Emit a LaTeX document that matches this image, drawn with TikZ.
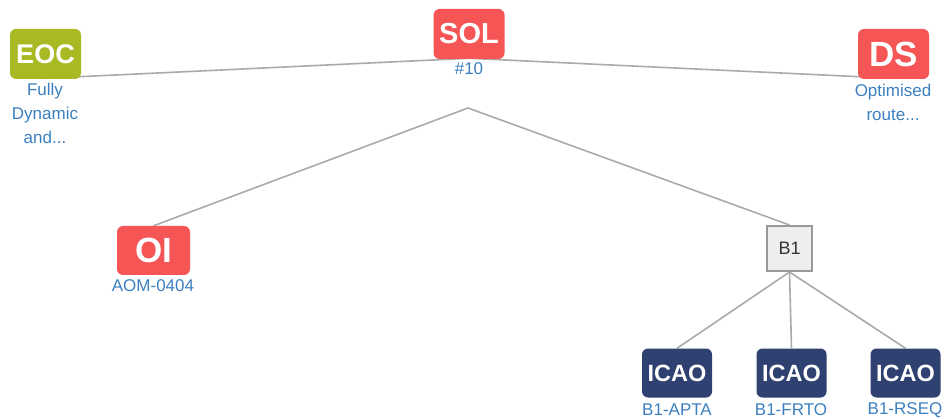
\documentclass[tikz,border=0pt]{standalone}
\usepackage{fontspec}
\setmainfont{Liberation Sans}
\usetikzlibrary{backgrounds}
\definecolor{solred}{HTML}{F55555}
\definecolor{eocgreen}{HTML}{A8B923}
\definecolor{icaonavy}{HTML}{2F4170}
\definecolor{lblue}{HTML}{3B7FC0}
\definecolor{linegray}{HTML}{AAAAAA}
\definecolor{bfill}{HTML}{EEEEEE}
\definecolor{bborder}{HTML}{999999}
\begin{document}
\begin{tikzpicture}[x=1pt,y=-1pt,
  box/.style={rounded corners=6pt, minimum width=71pt, minimum height=50pt, inner sep=0pt, text=white, font=\bfseries},
  lbl/.style={text=lblue, font=\fontsize{17}{24}\selectfont, align=center, inner sep=0pt},
  link/.style={draw=linegray, line width=1.6pt}]
\useasboundingbox (0,0) rectangle (944,419);
% boxes
\node[box, fill=eocgreen, font=\bfseries\fontsize{27}{27}\selectfont] (eoc) at (45.5,54) {EOC};
\node[box, fill=solred, font=\bfseries\fontsize{29}{29}\selectfont] (sol) at (469,34) {SOL};
\node[box, fill=solred, font=\bfseries\fontsize{35}{35}\selectfont] (ds) at (893.5,54) {DS};
\node[box, fill=solred, minimum width=73pt, minimum height=49pt, font=\bfseries\fontsize{35}{35}\selectfont] (oi) at (153.5,250.5) {OI};
\node[draw=bborder, line width=2pt, fill=bfill, minimum width=45pt, minimum height=45pt, inner sep=0pt, text=black!80, font=\fontsize{18}{18}\selectfont] (b1) at (789.5,248.5) {B1};
\node[box, fill=icaonavy, minimum width=70pt, minimum height=49pt, font=\bfseries\fontsize{23.5}{23.5}\selectfont] (ic1) at (677,373) {ICAO};
\node[box, fill=icaonavy, minimum width=70pt, minimum height=49pt, font=\bfseries\fontsize{23.5}{23.5}\selectfont] (ic2) at (791.5,373) {ICAO};
\node[box, fill=icaonavy, minimum width=70pt, minimum height=49pt, font=\bfseries\fontsize{23.5}{23.5}\selectfont] (ic3) at (905.5,373) {ICAO};
% labels
\node[lbl] (eocl) at (45,113) {Fully\\Dynamic\\and...};
\node[lbl] (soll) at (469,69) {\#10};
\node[lbl] (dsl) at (893,102) {Optimised\\route...};
\node[lbl] (oil) at (153,286) {AOM-0404};
\node[lbl] (ic1l) at (677,410) {B1-APTA};
\node[lbl] (ic2l) at (791,410) {B1-FRTO};
\node[lbl] (ic3l) at (905,410) {B1-RSEQ};
\coordinate (j) at (468,108);
% connectors
\begin{scope}[on background layer]
\draw[link] ([yshift=0.9pt]eoc.south) -- ([yshift=0.9pt]sol.south) -- ([yshift=0.9pt]ds.south);
\draw[link] (oi.north) -- (j) -- (b1.north);
\draw[link] (b1.south) -- (ic1.north);
\draw[link] (b1.south) -- (ic2.north);
\draw[link] (b1.south) -- (ic3.north);
\end{scope}
\end{tikzpicture}
\end{document}
